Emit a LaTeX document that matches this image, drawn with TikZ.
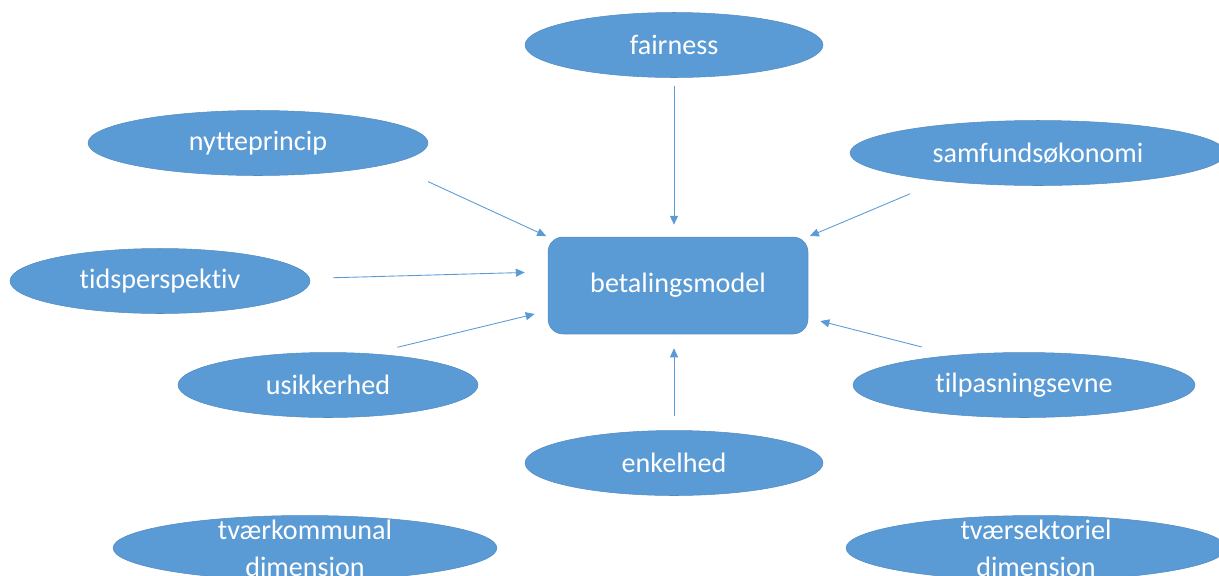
\documentclass[tikz,border=0pt]{standalone}
\usepackage{fontspec}
\setmainfont[Ligatures=NoCommon]{Carlito}
\usepackage{xcolor}
\usetikzlibrary{arrows.meta, shapes.geometric}

\definecolor{officeblue}{HTML}{5B9BD5}

\begin{document}
\begin{tikzpicture}[
  x=0.02cm, y=-0.02cm,
  topic/.style={ellipse, fill=officeblue, draw=officeblue!90!black, line width=0.3pt, inner sep=0pt, minimum height=1.3cm, text=white, font=\fontsize{16}{21}\selectfont},
  twoline/.style={label={[text=white, align=center, font=\fontsize{16}{21}\selectfont]center:#1}},
  model/.style={rectangle, rounded corners=0.3cm, fill=officeblue, draw=officeblue!90!black, line width=0.3pt, minimum width=5.2cm, minimum height=1.94cm, text=white, font=\fontsize{16}{21}\selectfont},
  arrow/.style={-{Triangle[length=1.8mm, width=1.6mm]}, line width=0.5pt, officeblue}
]
\clip (0,0) rectangle (1219,575);
\useasboundingbox (0,0) rectangle (1219,575);

\node[model] (model) at (678,285.5) {betalingsmodel};

\node[topic, minimum width=5.96cm] (fair) at (674,45) {fairness};
\node[topic, minimum width=6.8cm] (nytte) at (258,143) {nytteprincip};
\node[topic, minimum width=7.52cm] (samf) at (1038,153) {samfundsøkonomi};
\node[topic, minimum width=6.0cm] (tids) at (160,281) {tidsperspektiv};
\node[topic, minimum width=6.0cm] (usik) at (328,385) {usikkerhed};
\node[topic, minimum width=6.84cm] (tilp) at (1024,385) {tilpasningsevne};
\node[topic, minimum width=5.96cm] (enkel) at (674,463) {enkelhed};
\node[topic, minimum width=7.68cm, twoline={tværkommunal\\dimension}] (komm) at (305,548) {};
\node[topic, minimum width=7.6cm, twoline={tværsektoriel\\dimension}] (sekt) at (1036,548) {};

% arrows into the model
\draw[arrow, shorten <=0.16cm, shorten >=0.24cm] (fair.south) -- (fair.south |- model.north);
\draw[arrow, shorten <=0.85cm, shorten >=1pt] (nytte.-9) -- (model.north west);
\draw[arrow, shorten <=0.66cm, shorten >=1pt] (samf.-164.5) -- (model.north east);
\draw[arrow, shorten <=0.47cm, shorten >=0.46cm] (tids.1.7) -- (model.174.5);
\draw[arrow, shorten <=0.54cm, shorten >=0.27cm] (usik.36.7) -- (model.191.1);
\draw[arrow, shorten <=0.66cm, shorten >=0.25cm] (tilp.157.4) -- (model.-14.45);
\draw[arrow, shorten <=0.28cm, shorten >=0.28cm] (enkel.north) -- (enkel.north |- model.south);
\end{tikzpicture}
\end{document}
